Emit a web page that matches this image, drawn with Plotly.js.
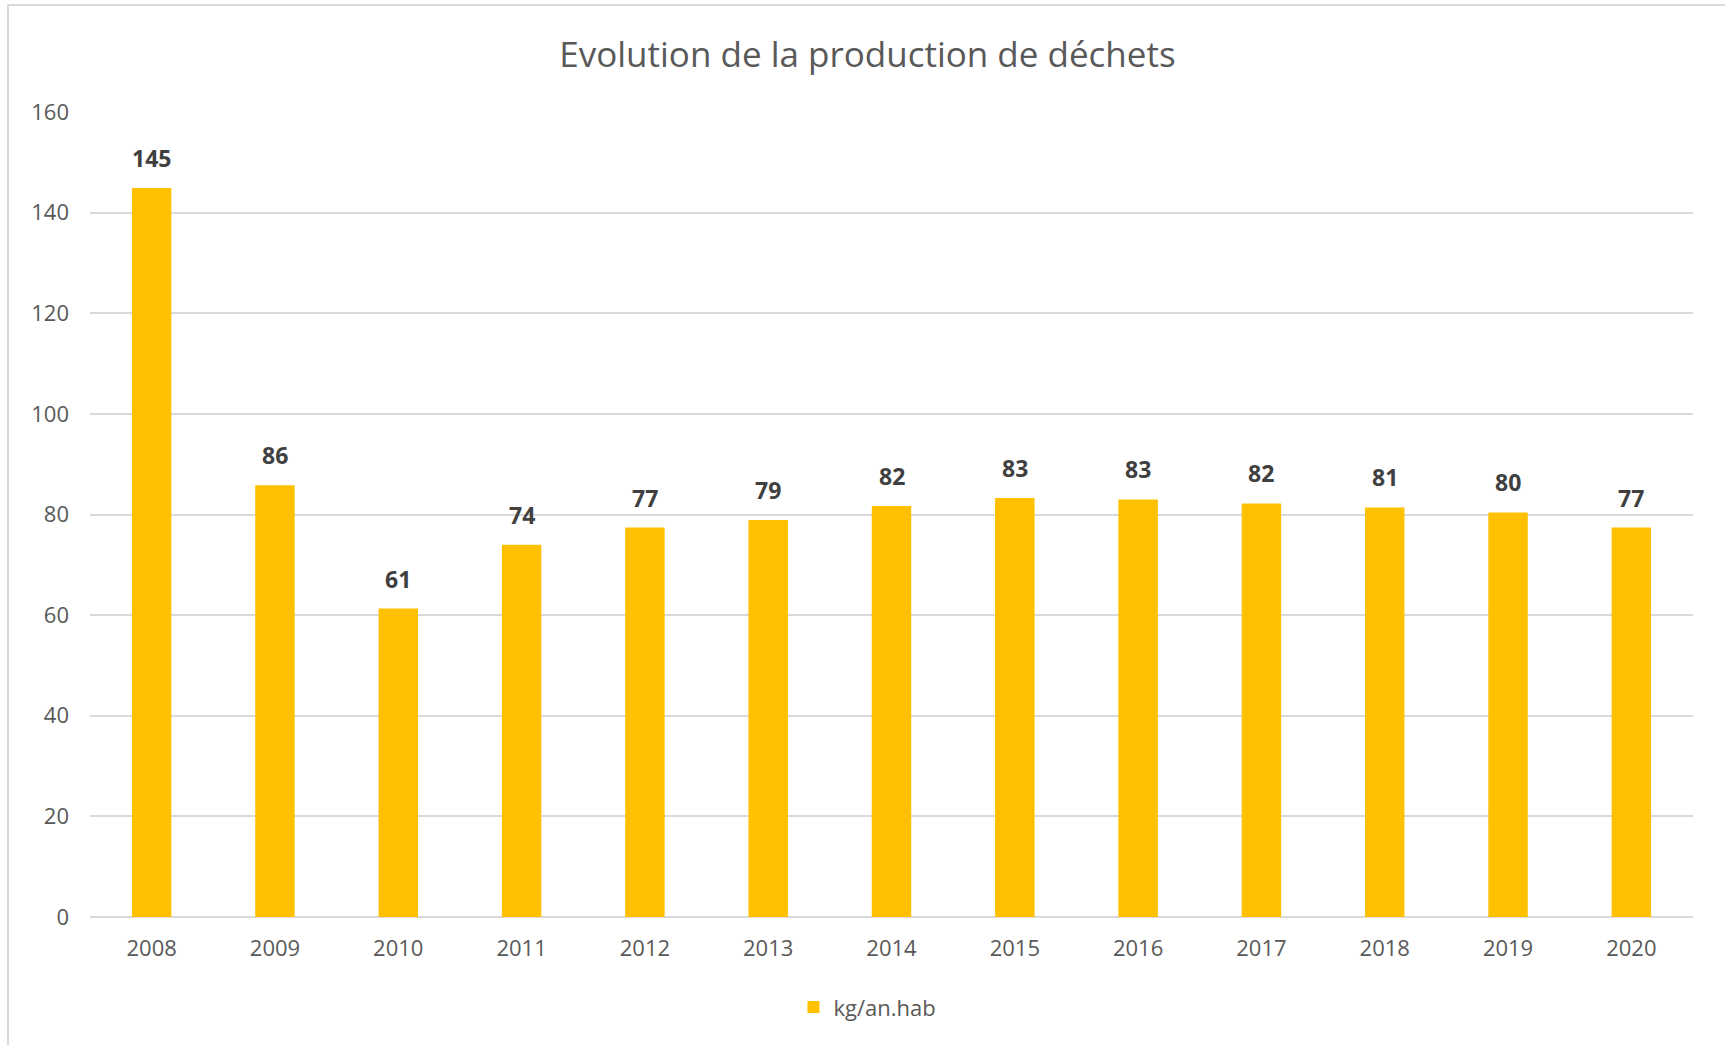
<!DOCTYPE html>
<html>
<head>
<meta charset="utf-8">
<script src="https://cdn.plot.ly/plotly-3.0.1.min.js"></script>
<style>
html,body{margin:0;padding:0;background:#fff;}
#chart{width:1725px;height:1045px;}
#frame{position:absolute;left:7px;top:4px;width:1740px;height:1060px;border:2px solid #d9d9d9;pointer-events:none;}
</style>
</head>
<body>
<div id="chart"></div>
<div id="frame"></div>
<script>
const years = ['2008','2009','2010','2011','2012','2013','2014','2015','2016','2017','2018','2019','2020'];
const kgPerHab = [144.9, 85.8, 61.3, 74.0, 77.4, 78.9, 81.7, 83.3, 83.0, 82.2, 81.4, 80.4, 77.4];
const labels = ['145','86','61','74','77','79','82','83','83','82','81','80','77'];
const seriesName = 'kg/an.hab';
const titleText = 'Evolution de la production de déchets';

const FONT = '"Open Sans", "Noto Sans", sans-serif';

const trace = {
  type: 'bar',
  x: years,
  y: kgPerHab,
  name: seriesName,
  marker: {color: '#FFC000'},
  hoverinfo: 'x+y'
};

// category axis: annotations positioned by category index
const annotations = years.map((yr, i) => ({
  x: i, y: kgPerHab[i], xref: 'x', yref: 'y',
  text: labels[i], showarrow: false,
  yanchor: 'bottom', yshift: 12,
  font: {family: FONT, size: 23, color: '#404040', weight: 'bold'}
}));

const layout = {
  width: 1725, height: 1045,
  paper_bgcolor: '#ffffff', plot_bgcolor: '#ffffff',
  margin: {l: 90, r: 32, t: 112, b: 128},
  title: {text: titleText, x: 0.485, xanchor: 'center', y: 0.948, yanchor: 'middle',
          xref: 'paper',
          font: {family: FONT, size: 35, color: '#595959'}},
  bargap: 0.68,
  xaxis: {
    type: 'category',
    range: [-0.5, years.length - 0.5],
    showgrid: false, zeroline: false, showline: false,
    ticks: '', ticklabelstandoff: 16,
    tickfont: {family: FONT, size: 22, color: '#595959'}
  },
  yaxis: {
    range: [0, 160], dtick: 20, tick0: 0,
    showgrid: true, gridcolor: '#d9d9d9', gridwidth: 2,
    zeroline: true, zerolinecolor: '#d9d9d9', zerolinewidth: 2,
    showline: false, ticks: '', ticklabelstandoff: 20,
    tickfont: {family: FONT, size: 22, color: '#595959'}
  },
  showlegend: true,
  legend: {orientation: 'h', x: 0.485, xanchor: 'center', y: -0.112, yanchor: 'middle',
           font: {family: FONT, size: 22, color: '#595959'}, itemwidth: 30},
  annotations: annotations
};

Plotly.newPlot('chart', [trace], layout, {displayModeBar: false, responsive: false});
</script>
</body>
</html>
